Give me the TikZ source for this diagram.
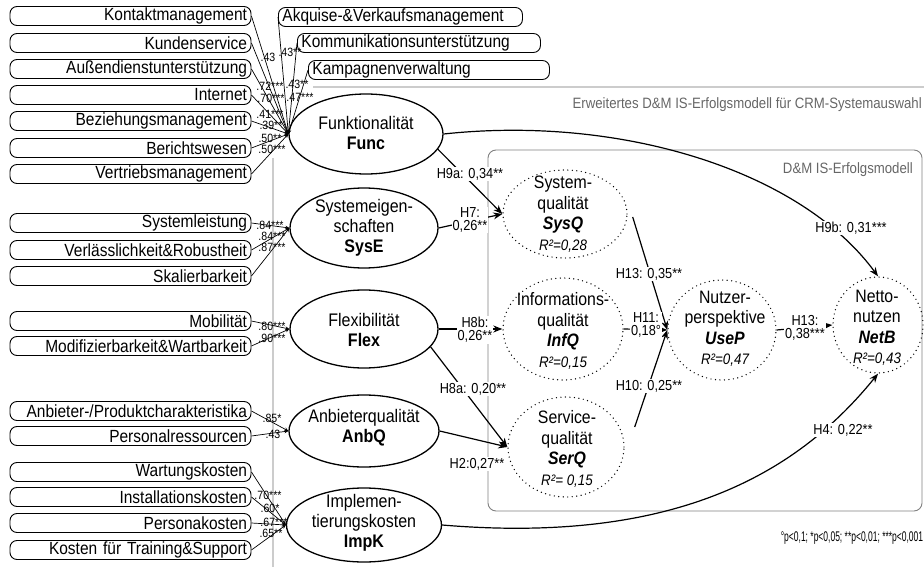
\documentclass[tikz,border=0pt]{standalone}
\usepackage{fontspec}
\usepackage{graphicx}
\setmainfont{Liberation Sans}[FakeStretch=0.88]
\usetikzlibrary{arrows.meta,shapes.geometric,calc}
\newcommand{\rsqf}{\fontsize{15.2}{17}\selectfont\itshape}
\begin{document}
\begin{tikzpicture}[x=1pt,y=-1pt,
  ind/.style={draw, rounded corners=7pt, line width=0.9pt, minimum height=19pt, inner ysep=0pt, inner xsep=4pt, font=\fontsize{17.6}{18}\selectfont},
  indL/.style={ind, text width=233pt, align=right},
  indT/.style={ind, align=left, anchor=west},
  lat/.style={draw, ellipse, line width=1.3pt, inner sep=0pt},
  lattxt/.style={align=center, font=\fontsize{18.2}{20}\selectfont, inner sep=0pt},
  dm/.style={draw, ellipse, line width=1.4pt, dash pattern=on 0pt off 4.5pt, line cap=round, inner sep=0pt},
  dmtxt/.style={align=center, font=\fontsize{18}{20.5}\selectfont, inner sep=0pt},
  ld/.style={font=\fontsize{12}{12}\selectfont, inner sep=0pt},
  il/.style={line width=0.7pt, -{Stealth[length=4pt,width=3.5pt]}},
  pa/.style={line width=1.2pt, -{Stealth[length=9pt,width=7pt]}},
  pl/.style={font=\fontsize{14.5}{14}\selectfont, fill=white, inner sep=1pt, align=center},
  greytxt/.style={font=\fontsize{15}{15}\selectfont, text=black!60, inner sep=0pt, anchor=east},
  outerln/.style={draw=black!20, line width=1.3pt},
  innerbox/.style={draw=black!50, line width=0.9pt, rounded corners=8pt},
]
\useasboundingbox (0,0) rectangle (924,567);

% frames
\draw[outerln] (273,158) -- (273,567);
\draw[outerln] (313,87) -- (924,87);
\draw[innerbox] (488,150) rectangle (922,511);
\node[greytxt] (title1) at (922,105) {Erweitertes D\&M IS-Erfolgsmodell für CRM-Systemauswahl};
\node[greytxt] (title2) at (913,170) {D\&M IS-Erfolgsmodell};

% latent constructs
\node[lat, minimum width=154pt, minimum height=80pt] (Func) at (366,134) {};
\node[lattxt] (FuncT) at (366,133) {Funktionalität\\\textbf{Func}};
\node[lat, minimum width=148pt, minimum height=80pt] (SysE) at (364,228) {};
\node[lattxt] (SysET) at (364,228) {Systemeigen-\\schaften\\\textbf{SysE}};
\node[lat, minimum width=148pt, minimum height=78pt] (Flex) at (364,329) {};
\node[lattxt] (FlexT) at (364,330) {Flexibilität\\\textbf{Flex}};
\node[lat, minimum width=150pt, minimum height=72pt] (AnbQ) at (364,431) {};
\node[lattxt] (AnbQT) at (364,428) {Anbieterqualität\\\textbf{AnbQ}};
\node[lat, minimum width=155pt, minimum height=74pt] (ImpK) at (364,525) {};
\node[lattxt] (ImpKT) at (364,523) {Implemen-\\tierungskosten\\\textbf{ImpK}};

% D&M constructs
\node[dm, minimum width=124pt, minimum height=88pt] (SysQ) at (565,214) {};
\node[dmtxt] (SysQT) at (563,214) {System-\\qualität\\\textbf{\textit{SysQ}}\\{\rsqf R²=0,28}};
\node[dm, minimum width=120pt, minimum height=102pt] (InfQ) at (563,329) {};
\node[dmtxt] (InfQT) at (563,331) {Informations-\\qualität\\\textbf{\textit{InfQ}}\\{\rsqf R²=0,15}};
\node[dm, minimum width=116pt, minimum height=100pt] (SerQ) at (566,447) {};
\node[dmtxt] (SerQT) at (567,449) {Service-\\qualität\\\textbf{\textit{SerQ}}\\{\rsqf R²= 0,15}};
\node[dm, minimum width=108pt, minimum height=100pt] (UseP) at (722,330) {};
\node[dmtxt] (UsePT) at (725,329) {Nutzer-\\perspektive\\\textbf{\textit{UseP}}\\{\rsqf R²=0,47}};
\node[dm, minimum width=90pt, minimum height=96pt] (NetB) at (878,325) {};
\node[dmtxt] (NetBT) at (877,328) {Netto-\\nutzen\\\textbf{\textit{NetB}}\\{\rsqf R²=0,43}};

% indicators Func
\node[indL] (f1) at (130.5,16) {Kontaktmanagement};
\node[indL] (f2) at (130.5,43) {Kundenservice};
\node[indL] (f3) at (130.5,69) {Außendienstunterstützung};
\node[indL] (f4) at (130.5,95) {Internet};
\node[indL] (f5) at (130.5,121) {Beziehungsmanagement};
\node[indL] (f6) at (130.5,148) {Berichtswesen};
\node[indL] (f7) at (130.5,174) {Vertriebsmanagement};
\node[indT, text width=236pt] (f8) at (278,17) {Akquise-\&Verkaufsmanagement};
\node[indT, text width=235pt] (f9) at (297,43) {Kommunikationsunterstützung};
\node[indT, text width=233pt] (f10) at (308,70) {Kampagnenverwaltung};
% indicators SysE
\node[indL] (s1) at (130.5,223) {Systemleistung};
\node[indL] (s2) at (130.5,250) {Verlässlichkeit\&Robustheit};
\node[indL] (s3) at (130.5,276) {Skalierbarkeit};
% indicators Flex
\node[indL] (x1) at (130.5,321) {Mobilität};
\node[indL] (x2) at (130.5,346) {Modifizierbarkeit\&Wartbarkeit};
% indicators AnbQ
\node[indL] (a1) at (130.5,411) {Anbieter-/Produktcharakteristika};
\node[indL] (a2) at (130.5,436) {Personalressourcen};
% indicators ImpK
\node[indL] (i1) at (130.5,472) {Wartungskosten};
\node[indL] (i2) at (130.5,497) {Installationskosten};
\node[indL] (i3) at (130.5,523) {Personakosten};
\node[indL] (i4) at (130.5,550) {Kosten für Training\&Support};

% indicator lines
\foreach \n in {f1,f2,f3,f4,f5,f6,f7} \draw[il] (\n.east) -- (Func.west);
\foreach \n in {f8,f9,f10} \draw[il] (\n.west) -- (Func.west);
\foreach \n in {s1,s2,s3} \draw[il] (\n.east) -- (SysE.west);
\foreach \n in {x1,x2} \draw[il] (\n.east) -- (Flex.west);
\foreach \n in {a1,a2} \draw[il] (\n.east) -- (AnbQ.west);
\foreach \n in {i1,i2,i3,i4} \draw[il] (\n.east) -- (ImpK.west);

% loadings
\node[ld] (l1) at (268,57) {.43};
\node[ld] (l2) at (290,52) {.43**};
\node[ld] (l3) at (270,86) {.72***};
\node[ld] (l4) at (297,84) {.43**};
\node[ld] (l5) at (271,98) {.70***};
\node[ld] (l6) at (300,97) {.47***};
\node[ld] (l7) at (270,114) {.41***};
\node[ld] (l8) at (271,125) {.39**};
\node[ld] (l9) at (270,138) {.50**};
\node[ld] (l10) at (272,149) {.50***};
\node[ld] (l11) at (270,225) {.84***};
\node[ld] (l12) at (272,236) {.84***};
\node[ld] (l13) at (272,247) {.87***};
\node[ld] (l14) at (272,326) {.80***};
\node[ld] (l15) at (272,338) {.90***};
\node[ld] (l16) at (272,418) {.85*};
\node[ld] (l17) at (273,434) {.43};
\node[ld] (l18) at (268,495) {.70***};
\node[ld] (l19) at (270,508) {.60*};
\node[ld] (l20) at (274,522) {.67***};
\node[ld] (l21) at (271,533) {.65**};

% structural paths
\draw[pa] (Func.east) .. controls (620,115) and (800,170) .. (NetB.north);
\draw[pa] (ImpK.east) .. controls (680,545) and (800,470) .. (NetB.south);
\draw[pa] (Func.-12) -- (SysQ.west);
\draw[pa] (SysE.east) -- (SysQ.west);
\draw[pa] (Flex.east) -- (InfQ.west);
\draw[pa] (Flex.-15) -- (SerQ.west);
\draw[pa] (AnbQ.east) -- (SerQ.west);
\draw[pa] ($(SysQ.east)+(5,3)$) -- (UseP.west);
\draw[pa] (InfQ.east) -- (UseP.west);
\draw[pa] ($(SerQ.east)+(10,-20)$) -- (UseP.west);
\draw[pa] (UseP.east) -- (NetB.west);

% path labels
\node[pl] (p1) at (470,174) {H9a: 0,34**};
\node[pl] (p2) at (470,220) {H7:\\[-1pt]0,26**};
\node[pl] (p3) at (475,330) {H8b:\\[-1pt]0,26**};
\node[pl] (p4) at (473,389) {H8a: 0,20**};
\node[pl] (p5) at (477,464) {H2:0,27**};
\node[pl] (p6) at (649,274) {H13: 0,35**};
\node[pl] (p7) at (646,325) {H11:\\[-1pt]0,18°};
\node[pl] (p8) at (649,386) {H10: 0,25**};
\node[pl] (p9) at (805,328) {H13:\\[-1pt]0,38***};
\node[pl] (p10) at (851,228) {H9b: 0,31***};
\node[pl] (p11) at (843,430) {H4: 0,22**};

% legend
\node[inner sep=0pt, font=\fontsize{14}{15}\selectfont] (leg) at (852,538) {\scalebox{0.69}[1]{°p<0,1; *p<0,05; **p<0,01; ***p<0,001}};
\end{tikzpicture}
\end{document}
